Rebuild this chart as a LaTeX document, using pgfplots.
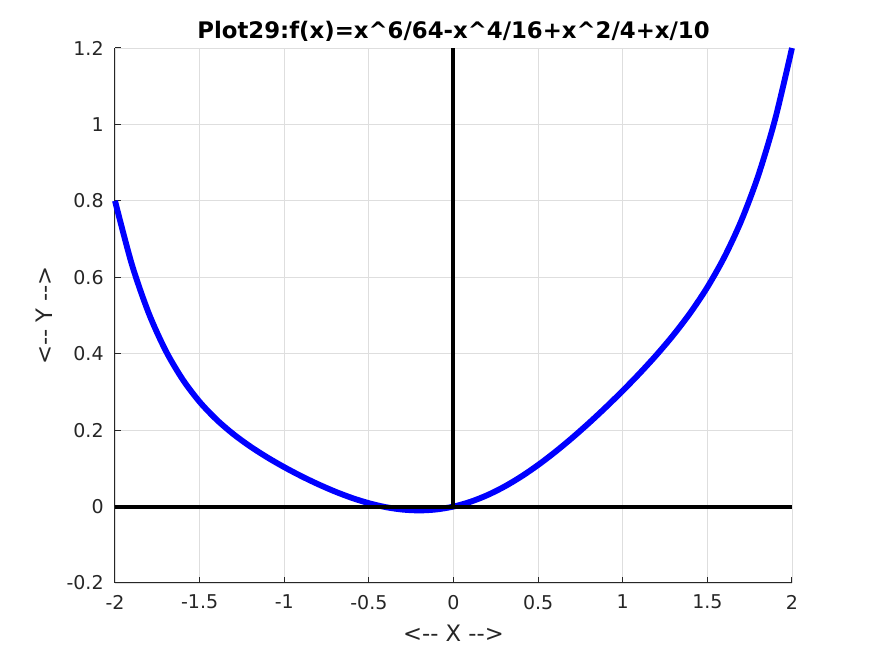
\documentclass[border=0pt]{standalone}
\usepackage{fontspec}
\setmainfont{DejaVu Sans}
\usepackage{pgfplots}
\pgfplotsset{compat=1.18}
\definecolor{gridc}{HTML}{DEDEDE}
\definecolor{axc}{HTML}{262626}
\begin{document}
\begin{tikzpicture}
\path[use as bounding box] (-86.25pt,-54.75pt) rectangle (570pt,437.25pt);
\begin{axis}[
  at={(0,0)}, anchor=south west,
  scale only axis, width=507.75pt, height=401.25pt,
  xmin=-2, xmax=2, ymin=-0.2, ymax=1.2,
  axis x line*=bottom, axis y line*=left,
  axis line style={axc, line width=0.75pt, -},
  tick align=inside, major tick length=4.5pt,
  tick style={axc, line width=0.75pt},
  xtick={-2,-1.5,-1,-0.5,0,0.5,1,1.5,2},
  xticklabels={-2,-1.5,-1,-0.5,0,0.5,1,1.5,2},
  ytick={-0.2,0,0.2,0.4,0.6,0.8,1,1.2},
  yticklabels={-0.2,0,0.2,0.4,0.6,0.8,1,1.2},
  ticklabel style={font=\fontsize{14.25}{17}\selectfont, text=axc},
  xticklabel style={yshift=-5.5pt},
  yticklabel style={xshift=-5pt},
  grid=major, major grid style={gridc, line width=0.6pt},
  xlabel={<-{}- X -{}->}, ylabel={<-{}- Y -{}->},
  label style={font=\fontsize{17}{20}\selectfont, text=axc},
  xlabel style={yshift=-5pt},
  ylabel style={yshift=4pt},
  title={\bfseries Plot29:f(x)=x\^{}6/64-x\^{}4/16+x\^{}2/4+x/10},
  title style={font=\fontsize{17.1}{20}\selectfont, yshift=-5pt},
  clip=false,
]
\addplot[blue, line width=4.4pt, smooth] coordinates {
(-2.0,0.8)(-1.9,0.63308)(-1.8,0.50534)(-1.7,0.40764)(-1.6,0.33254)
(-1.5,0.27407)(-1.4,0.22755)(-1.3,0.18941)(-1.2,0.15706)(-1.1,0.12867)
(-1.0,0.103125)(-0.9,0.07979)(-0.8,0.0585)(-0.7,0.039332)(-0.6,0.022629)
(-0.5,0.008838)(-0.4,-0.001536)(-0.3,-0.007995)(-0.2,-0.010099)(-0.1,-0.007506)
(0.0,0)(0.1,0.012494)(0.2,0.029901)(0.3,0.052005)(0.4,0.078464)
(0.5,0.108838)(0.6,0.142629)(0.7,0.179332)(0.8,0.218496)(0.9,0.259798)
(1.0,0.303125)(1.1,0.34867)(1.2,0.39706)(1.3,0.44941)(1.4,0.50755)
(1.5,0.57407)(1.6,0.65254)(1.7,0.74764)(1.8,0.86534)(1.9,1.01308)(2.0,1.2)
};
\addplot[black, line width=3pt] coordinates {(-2,0)(2,0)};
\addplot[black, line width=3pt] coordinates {(0,0)(0,1.2)};
\end{axis}
\end{tikzpicture}
\end{document}
